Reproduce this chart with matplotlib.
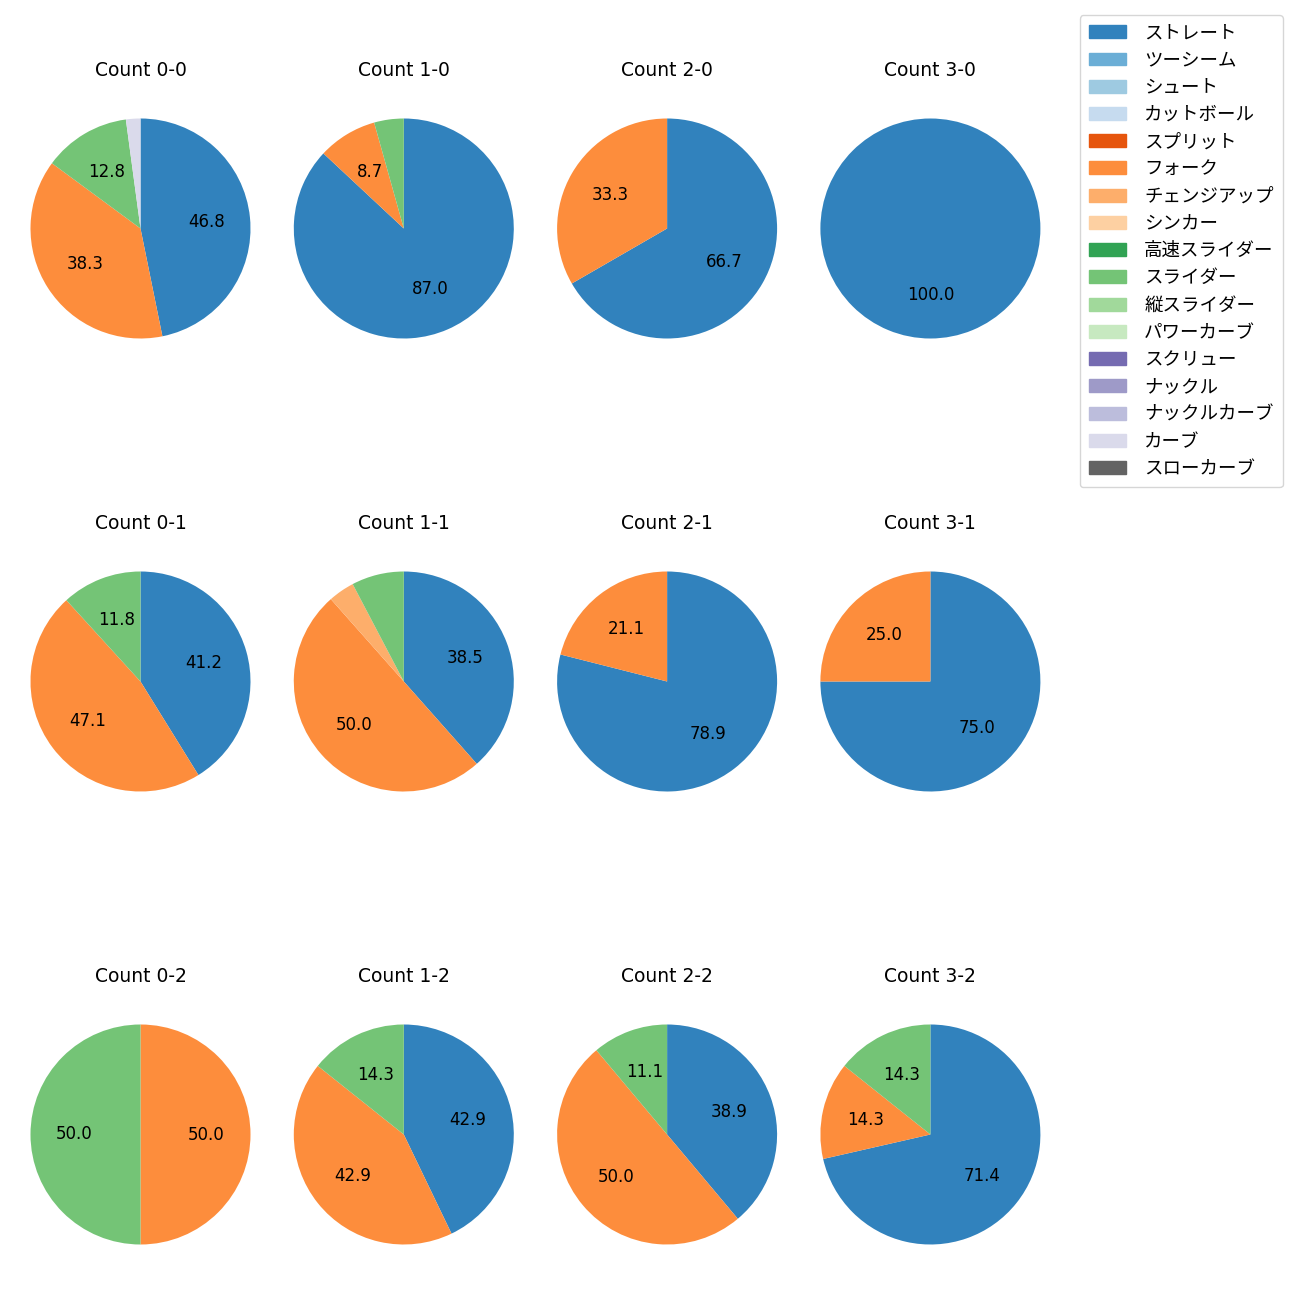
import matplotlib.pyplot as plt
from matplotlib.patches import Patch

plt.rcParams['font.family'] = ['DejaVu Sans', 'Noto Sans CJK JP']

# pitch types in legend order
pitch_types = ["ストレート", "ツーシーム", "シュート", "カットボール", "スプリット", "フォーク",
               "チェンジアップ", "シンカー", "高速スライダー", "スライダー", "縦スライダー",
               "パワーカーブ", "スクリュー", "ナックル", "ナックルカーブ", "カーブ", "スローカーブ"]

cmap = plt.get_cmap("tab20c")
colors = [cmap(i) for i in range(len(pitch_types))]

# pitch counts per ball-strike count: {pitch type: number}
count_00 = {"ストレート": 22, "フォーク": 18, "スライダー": 6, "カーブ": 1}
count_10 = {"ストレート": 20, "フォーク": 2, "スライダー": 1}
count_20 = {"ストレート": 2, "フォーク": 1}
count_30 = {"ストレート": 1}
count_01 = {"ストレート": 7, "フォーク": 8, "スライダー": 2}
count_11 = {"ストレート": 10, "フォーク": 13, "チェンジアップ": 1, "スライダー": 2}
count_21 = {"ストレート": 15, "フォーク": 4}
count_31 = {"ストレート": 3, "フォーク": 1}
count_02 = {"フォーク": 1, "スライダー": 1}
count_12 = {"ストレート": 3, "フォーク": 3, "スライダー": 1}
count_22 = {"ストレート": 7, "フォーク": 9, "スライダー": 2}
count_32 = {"ストレート": 5, "フォーク": 1, "スライダー": 1}

grid = [
    [("Count 0-0", count_00), ("Count 1-0", count_10), ("Count 2-0", count_20), ("Count 3-0", count_30)],
    [("Count 0-1", count_01), ("Count 1-1", count_11), ("Count 2-1", count_21), ("Count 3-1", count_31)],
    [("Count 0-2", count_02), ("Count 1-2", count_12), ("Count 2-2", count_22), ("Count 3-2", count_32)],
]


def pct_label(p):
    return f"{p:.1f}" if p >= 8 else ""


W = H = 1300.0
fig = plt.figure(figsize=(13, 13))

size = 275.0  # axes box in pixels (pie radius ~110)
for r, row in enumerate(grid):
    for c, (title, data) in enumerate(row):
        cx = 140.5 + 263.3 * c
        cy = 228.5 + 453.0 * r
        ax = fig.add_axes([(cx - size / 2) / W, 1 - (cy + size / 2) / H, size / W, size / H])
        names = [p for p in pitch_types if p in data]
        values = [data[p] for p in names]
        cols = [colors[pitch_types.index(p)] for p in names]
        ax.pie(values, colors=cols, startangle=90, counterclock=False,
               autopct=pct_label, textprops={"fontsize": 12})
        ax.set_title(title, fontsize=13.5, pad=11)
        ax.set_aspect("equal")

handles = [Patch(color=colors[i], label=p) for i, p in enumerate(pitch_types)]
fig.legend(handles=handles, loc="upper right", bbox_to_anchor=(1283 / W, 1 - 15 / H),
           borderaxespad=0, fontsize=13.3, handletextpad=1.0, borderpad=0.5)

fig.savefig("out.png", dpi=100)
